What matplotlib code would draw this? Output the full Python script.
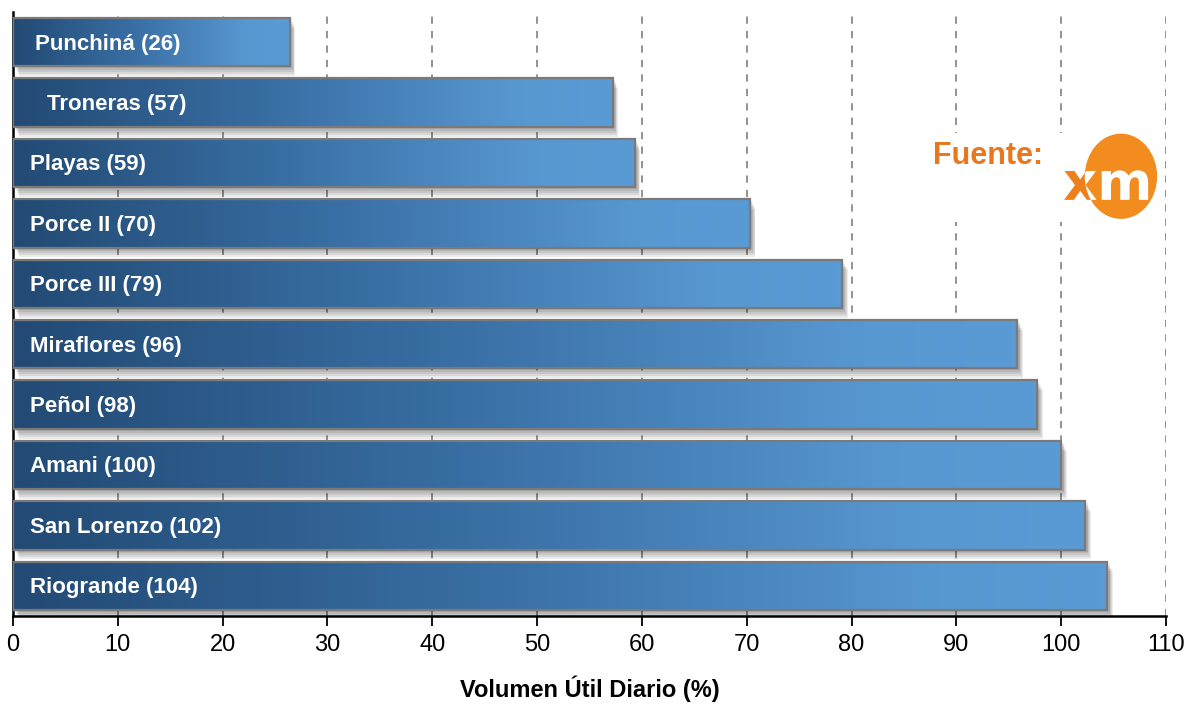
import matplotlib
matplotlib.use("Agg")
import matplotlib.pyplot as plt
import numpy as np
from matplotlib.colors import LinearSegmentedColormap
from matplotlib.patches import Rectangle, Ellipse, PathPatch
from matplotlib.textpath import TextPath
from matplotlib.font_manager import FontProperties
from matplotlib.transforms import Affine2D

# data
embalses = ["Punchiná", "Troneras", "Playas", "Porce II", "Porce III",
            "Miraflores", "Peñol", "Amani", "San Lorenzo", "Riogrande"]
volumen = [26.4, 57.2, 59.3, 70.3, 79.1, 95.8, 97.7, 100.0, 102.3, 104.4]
etiquetas_num = [26, 57, 59, 70, 79, 96, 98, 100, 102, 104]
xticks = list(range(0, 111, 10))

label_x = [2.1, 3.2, 1.6, 1.6, 1.6, 1.6, 1.6, 1.6, 1.6, 1.6]

narrow = ["Liberation Sans Narrow", "Liberation Sans", "DejaVu Sans"]
DPI = 100

fig = plt.figure(figsize=(11.87, 7.04), dpi=DPI)
ax = fig.add_axes([13 / 1187, 1 - 616 / 704, (1166 - 13) / 1187, (616 - 12) / 704])

cmap = LinearSegmentedColormap.from_list(
    "barra", [(0, "#224a74"), (0.45, "#3a70a6"), (0.85, "#5898d1"), (1, "#5b9bd5")])
grad = np.linspace(0, 1, 256).reshape(1, -1)

h = 0.8
for i, (nombre, v) in enumerate(zip(embalses, volumen)):
    # soft shadow
    for k in range(5):
        d = 0.025 * (k + 1)
        ax.add_patch(Rectangle((0.15 + d * 3, i - h / 2 + d * 1.3), v, h,
                               facecolor="black", edgecolor="none", alpha=0.08, zorder=2))
    ax.imshow(grad, cmap=cmap, aspect="auto", extent=[0, v, i + h / 2, i - h / 2],
              zorder=3, interpolation="bicubic")
    ax.add_patch(Rectangle((0, i - h / 2), v, h, facecolor="none",
                           edgecolor="#7a7a7a", linewidth=1.6, zorder=4))
    ax.text(label_x[i], i + 0.03, f"{nombre} ({etiquetas_num[i]})", color="white",
            fontsize=16, fontweight="bold", family=narrow, va="center", ha="left", zorder=5)

ax.set_xlim(0, 110)
ax.set_ylim(9.5, -0.5)
ax.set_xticks(xticks)
ax.set_xticklabels([str(t) for t in xticks], family=narrow, fontsize=17)
ax.set_yticks([])
ax.tick_params(axis="x", direction="out", length=7, width=1.3, pad=6)
ax.grid(axis="x", color="#8a8a8a", linestyle=(0, (4, 4)), linewidth=1.3, zorder=0)
ax.set_axisbelow(True)
for s in ["top", "right"]:
    ax.spines[s].set_visible(False)
ax.spines["left"].set_linewidth(1.8)
ax.spines["bottom"].set_linewidth(1.8)
ax.set_xlabel("Volumen Útil Diario (%)", family=narrow, fontsize=17,
              fontweight="bold", labelpad=14)

# source logo
ax.add_patch(Rectangle((87.2, 1.5), 21.5, 1.48, facecolor="white",
                       edgecolor="none", zorder=1))
ax.text(87.8, 1.88, "Fuente:", color="#e9771d", fontsize=22, fontweight="bold",
        family=["Liberation Sans", "DejaVu Sans"], va="center", ha="left", zorder=5)

logo = Ellipse((105.7, 2.22), 6.9, 1.41, facecolor="#f28c1e", edgecolor="none", zorder=6)
ax.add_patch(logo)

# "xm" as a path so it can be clipped by the ellipse (Agg ignores clip paths on text)
xm_path = TextPath((0, 0), "xm", size=38, prop=FontProperties(family="DejaVu Sans", weight="bold"))
px, py = ax.transData.transform((100.2, 2.61))
xm_tr = Affine2D().scale(DPI / 72).translate(px, py)
xm_orange = PathPatch(xm_path, transform=xm_tr, facecolor="#ee7f1b",
                      edgecolor="none", zorder=5)
ax.add_artist(xm_orange)
xm_white = PathPatch(xm_path, transform=xm_tr, facecolor="white",
                     edgecolor="none", zorder=7)
ax.add_artist(xm_white)
xm_white.set_clip_path(logo)

fig.savefig("out.png", dpi=DPI)
